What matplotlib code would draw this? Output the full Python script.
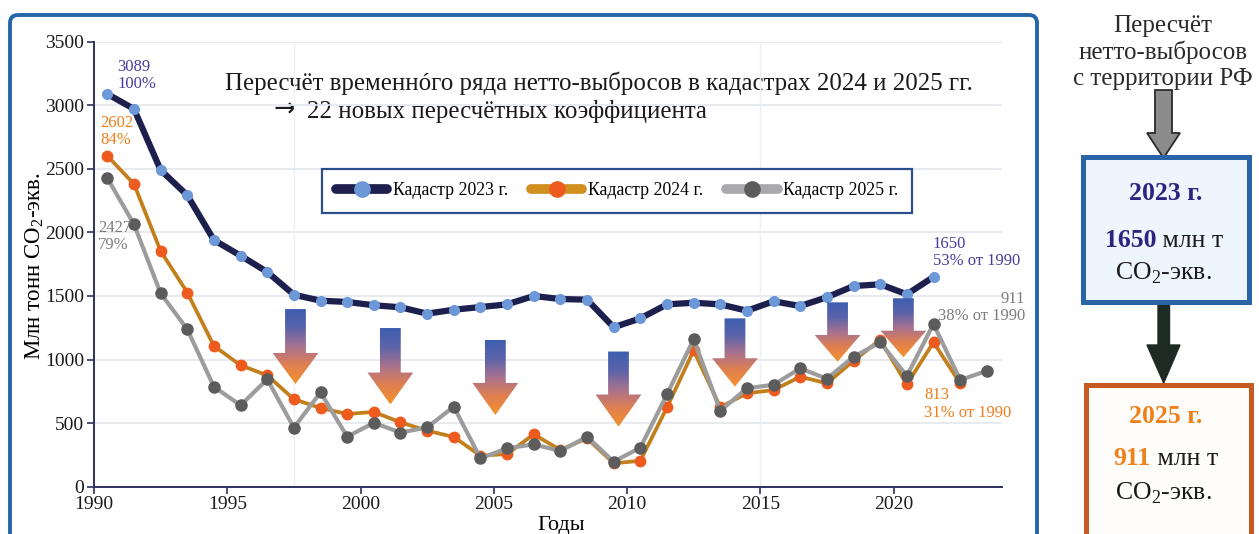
import numpy as np
import matplotlib
matplotlib.use('Agg')
import matplotlib.pyplot as plt
from matplotlib.patches import Polygon, FancyBboxPatch, Rectangle
from matplotlib.lines import Line2D
from matplotlib.colors import LinearSegmentedColormap

plt.rcParams['font.family'] = ['Liberation Serif', 'DejaVu Serif']
plt.rcParams['mathtext.fontset'] = 'custom'
plt.rcParams['mathtext.rm'] = 'Liberation Serif'

# ---------------- data ----------------
years_2023 = list(range(1990, 2022))
kad_2023 = [3089, 2971, 2491, 2292, 1940, 1817, 1689, 1510, 1463, 1453, 1427, 1411,
            1361, 1392, 1413, 1434, 1500, 1476, 1471, 1254, 1324, 1434, 1447, 1434,
            1384, 1458, 1421, 1490, 1578, 1592, 1513, 1650]
years_2024 = list(range(1990, 2023))
kad_2024 = [2602, 2381, 1854, 1527, 1107, 955, 876, 688, 619, 572, 588, 506,
            441, 391, 244, 257, 412, 289, 381, 184, 204, 624, 1072, 625,
            735, 760, 865, 813, 991, 1155, 805, 1136, 813]
years_2025 = list(range(1990, 2024))
kad_2025 = [2427, 2064, 1521, 1238, 786, 640, 845, 464, 742, 393, 503, 425,
            467, 629, 223, 302, 333, 281, 393, 197, 307, 727, 1159, 598,
            774, 802, 931, 849, 1022, 1135, 871, 1280, 839, 911]
series_labels = ['Кадастр 2023 г.', 'Кадастр 2024 г.', 'Кадастр 2025 г.']
x_ticks = [1990, 1995, 2000, 2005, 2010, 2015, 2020]
y_ticks = [0, 500, 1000, 1500, 2000, 2500, 3000, 3500]

# ---------------- figure ----------------
W, H, DPI = 1259, 534, 100
fig = plt.figure(figsize=(W / DPI, H / DPI), dpi=DPI)
fig.patch.set_facecolor('white')

ov = fig.add_axes([0, 0, 1, 1], zorder=0)
ov.set_xlim(0, W)
ov.set_ylim(H, 0)
ov.axis('off')

ax = fig.add_axes([94 / W, 1 - 486.7 / H, 908 / W, 445 / H], zorder=1)
ax.set_facecolor('none')

NAVY = '#1d1f4d'
C_BLUE_M = '#6d98d8'
C_OR_L = '#c27f1b'
C_OR_M = '#ee5b1f'
C_GR_L = '#9c9c9c'
C_GR_M = '#5c5c5c'

# mid-year positions
x23 = np.array(years_2023) + 0.5
x24 = np.array(years_2024) + 0.5
x25 = np.array(years_2025) + 0.5

ax.plot(x23, kad_2023, color=NAVY, lw=4.5, marker='o', ms=7, mfc=C_BLUE_M, mec=C_BLUE_M,
        solid_joinstyle='round', solid_capstyle='round', zorder=3)
ax.plot(x24, kad_2024, color=C_OR_L, lw=2.7, marker='o', ms=7.5, mfc=C_OR_M, mec=C_OR_M,
        solid_joinstyle='round', zorder=3)
ax.plot(x25, kad_2025, color=C_GR_L, lw=3.0, marker='o', ms=8, mfc=C_GR_M, mec=C_GR_M,
        solid_joinstyle='round', zorder=3.5)

ax.set_xlim(1990, 2024.07)
ax.set_ylim(0, 3500)
ax.set_xticks(x_ticks)
ax.set_yticks(y_ticks)
ax.tick_params(direction='out', length=5, width=1.2, color='#2f3060',
               labelsize=14, labelcolor='#1a1a1a', pad=2)
for s in ['top', 'right']:
    ax.spines[s].set_visible(False)
for s in ['left', 'bottom']:
    ax.spines[s].set_color('#2f3060')
    ax.spines[s].set_linewidth(1.4)
ax.yaxis.grid(True, color='#e3e7ee', lw=1.2, zorder=0)
ax.set_axisbelow(True)
for xv in [1997.5, 2015.0]:
    ax.axvline(xv, color='#eceff4', lw=1.0, zorder=0)

ax.set_ylabel('Млн тонн CO$_{\\mathregular{2}}$-экв.', fontsize=16.5)
ax.yaxis.set_label_coords(-0.053, 0.495)
ax.set_xlabel('Годы', fontsize=16)
ax.xaxis.set_label_coords(0.515, -0.065)

# legend
handles = [
    Line2D([], [], color=NAVY, lw=7, marker='o', ms=11, mfc=C_BLUE_M, mec=C_BLUE_M, solid_capstyle='round'),
    Line2D([], [], color='#d08f1e', lw=7, marker='o', ms=11, mfc=C_OR_M, mec=C_OR_M, solid_capstyle='round'),
    Line2D([], [], color='#a9a9ad', lw=7, marker='o', ms=11, mfc=C_GR_M, mec=C_GR_M, solid_capstyle='round'),
]
leg = ax.legend(handles, series_labels, loc='center', bbox_to_anchor=(0.576, 0.665), ncol=3,
                fontsize=12.8, handlelength=2.9, columnspacing=1.3, handletextpad=0.3,
                borderpad=0.75, fancybox=False, framealpha=1)
leg.get_frame().set_edgecolor('#2b4f8a')
leg.get_frame().set_linewidth(1.6)

# data labels
def lab(x, y, txt, color, dx, dy, ha='left', va='bottom', ma='left'):
    ax.annotate(txt, xy=(x, y), xytext=(dx, dy), textcoords='offset pixels',
                ha=ha, va=va, fontsize=12, color=color, multialignment=ma,
                linespacing=1.1, zorder=6)

lab(x23[0], kad_2023[0], f'{kad_2023[0]}\n100%', '#463c9c', 10, 2)
lab(x24[0], kad_2024[0], f'{kad_2024[0]}\n84%', '#f07d1a', -7, 8)
lab(x25[0], kad_2025[0], f'{kad_2025[0]}\n79%', '#7c7c7c', -9, -42, va='top')
lab(x23[-1], kad_2023[-1], f'{kad_2023[-1]}\n53% от 1990', '#463c9c', -1, 8)
lab(x25[-1], kad_2025[-1], f'{kad_2025[-1]}\n38% от 1990', '#7c7c7c', 38, 47, ha='right', ma='right')
lab(x24[-1], kad_2024[-1], f'{kad_2024[-1]}\n31% от 1990', '#f07d1a', -36, -4, va='top')

# gradient arrows (decoration): center x, top, head start, tip
arrow_specs = [(1997.56, 1397, 1052, 808), (2001.12, 1248, 898, 647),
               (2005.06, 1154, 816, 564), (2009.68, 1063, 725, 472),
               (2014.05, 1324, 1010, 787), (2017.90, 1450, 1193, 983),
               (2020.37, 1482, 1227, 1018)]
cmap_arrow = LinearSegmentedColormap.from_list(
    'ar', ['#3d5eb0', '#5a63aa', '#a77290', '#e07f50', '#f3922b'])
grad = np.linspace(0, 1, 256).reshape(-1, 1)
sw, hw = 0.39, 0.86
for xc, top, head, tip in arrow_specs:
    verts = [(xc - sw, top), (xc + sw, top), (xc + sw, head), (xc + hw, head),
             (xc, tip), (xc - hw, head), (xc - sw, head)]
    poly = Polygon(verts, closed=True, facecolor='none', edgecolor='none')
    ax.add_patch(poly)
    im = ax.imshow(grad, extent=[xc - hw, xc + hw, tip, top], origin='upper', aspect='auto',
                   cmap=cmap_arrow, zorder=5, interpolation='bilinear')
    im.set_clip_path(poly)
ax.set_xlim(1990, 2024.07)
ax.set_ylim(0, 3500)

# title inside chart
ov.text(225, 90, 'Пересчёт временнóго ряда нетто-выбросов в кадастрах 2024 и 2025 гг.',
        fontsize=17.9, ha='left', va='baseline', color='#1a1a1a')
ov.text(274, 117, '→', family='DejaVu Sans', fontsize=19,
        ha='left', va='baseline', color='#1a1a1a')
ov.text(307, 118, '22 новых пересчётных коэффициента',
        fontsize=17.9, ha='left', va='baseline', color='#1a1a1a')

# outer frame
ov.add_patch(FancyBboxPatch((10, 15), 1027, 560, boxstyle='round,pad=0,rounding_size=8',
                            fill=False, ec='#2566a9', lw=2.8))

# right panel
for i, t in enumerate(['Пересчёт', 'нетто-выбросов', 'с территории РФ']):
    ov.text(1163, 32 + i * 26.5, t, fontsize=18, ha='center', va='baseline', color='#2a2a2a')

ov.add_patch(Polygon([(1155, 90), (1172, 90), (1172, 133), (1180, 133), (1163.5, 158),
                      (1147, 133), (1155, 133)], closed=True, fc='#8c8c8c', ec='#2b2b2b', lw=1.3))
ov.add_patch(Polygon([(1158, 305), (1169.5, 305), (1169.5, 345), (1180, 345), (1163.7, 383),
                      (1147, 345), (1158, 345)], closed=True, fc='#1e2b25', ec='#1e2b25', lw=1))

ov.add_patch(Rectangle((1083, 157), 166, 145, fc='#eef6fd', ec='#2a64a6', lw=3.6))
ov.add_patch(Rectangle((1086, 385), 165, 170, fc='#fffdfb', ec='#c55a22', lw=3.6))

renderer = fig.canvas.get_renderer()

def two_part(cx, y, t1, kw1, t2, kw2):
    a = ov.text(0, y, t1, ha='left', va='baseline', **kw1)
    b = ov.text(0, y, t2, ha='left', va='baseline', **kw2)
    w1 = a.get_window_extent(renderer).width
    w2 = b.get_window_extent(renderer).width
    start = cx - (w1 + w2) / 2
    a.set_x(start)
    b.set_x(start + w1)

ov.text(1166, 200, '2023 г.', fontsize=18.5, fontweight='bold', color='#2b2580',
        ha='center', va='baseline')
two_part(1164, 247, '1650', dict(fontsize=18.5, fontweight='bold', color='#2b2580'),
         ' млн т', dict(fontsize=18.5, color='#1a1a1a'))
ov.text(1163, 280, 'CO$_{\\mathregular{2}}$-экв.', fontsize=18.5, color='#1a1a1a',
        ha='center', va='baseline')

ov.text(1166, 423, '2025 г.', fontsize=18.5, fontweight='bold', color='#f08018',
        ha='center', va='baseline')
two_part(1166, 465, '911', dict(fontsize=18.5, fontweight='bold', color='#f08018'),
         ' млн т', dict(fontsize=18.5, color='#1a1a1a'))
ov.text(1163, 500, 'CO$_{\\mathregular{2}}$-экв.', fontsize=18.5, color='#1a1a1a',
        ha='center', va='baseline')

fig.savefig('out.png', dpi=DPI, facecolor='white')
